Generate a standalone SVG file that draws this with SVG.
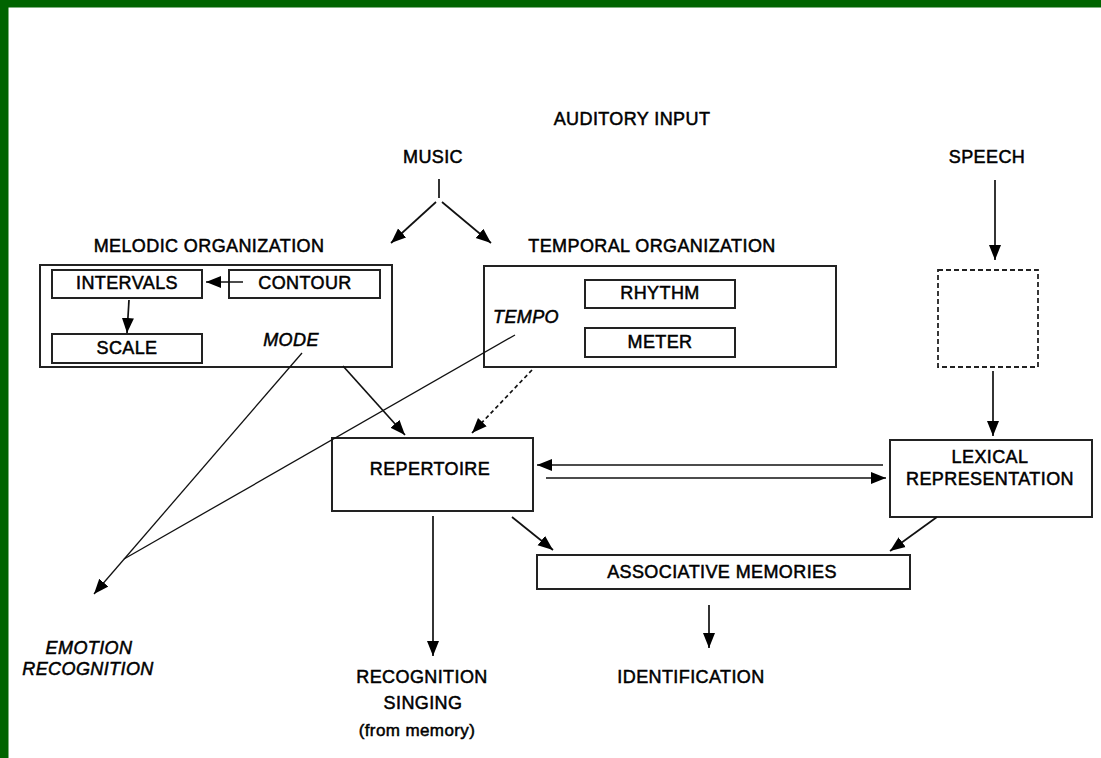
<svg xmlns="http://www.w3.org/2000/svg" width="1101" height="758" viewBox="0 0 1101 758">
<defs>
<marker id="ah" markerUnits="userSpaceOnUse" markerWidth="16" markerHeight="13" refX="15" refY="6.5" orient="auto">
<path d="M0,0.5 L15,6.5 L0,12.5 z" fill="#000"/>
</marker>
<style>
.t{font-family:"Liberation Sans",Arial,sans-serif;font-size:18px;fill:#000;text-anchor:middle;letter-spacing:0.4px;stroke:#000;stroke-width:0.5px}
.i{font-style:italic}
.box{fill:#fff;stroke:#222;stroke-width:2}
.dbox{fill:#fff;stroke:#222;stroke-width:1.8;stroke-dasharray:5,3}
.c{stroke:#111;stroke-width:1.7;fill:none}
.a{marker-end:url(#ah)}
.d{stroke-dasharray:4,3}
</style>
</defs>
<rect x="0" y="0" width="1101" height="758" fill="#fff"/>
<rect x="0" y="0" width="1101" height="7.5" fill="#006400"/>
<rect x="0" y="0" width="8.5" height="758" fill="#006400"/>

<g id="auditory-input"><text class="t" x="632" y="125">AUDITORY INPUT</text></g>
<g id="music"><text class="t" x="433" y="163">MUSIC</text></g>
<g id="speech"><text class="t" x="987" y="163">SPEECH</text></g>

<g id="melodic-organization">
<text class="t" x="209" y="252">MELODIC ORGANIZATION</text>
<rect class="box" x="40" y="265" width="352" height="102"/>
</g>
<g id="intervals"><rect class="box" x="52" y="270" width="150" height="28"/><text class="t" x="127" y="289">INTERVALS</text></g>
<g id="contour"><rect class="box" x="229" y="270" width="151" height="28"/><text class="t" x="305" y="289">CONTOUR</text></g>
<g id="scale"><rect class="box" x="52" y="334" width="150" height="29"/><text class="t" x="127" y="354">SCALE</text></g>
<g id="mode"><text class="t i" x="291" y="346">MODE</text></g>

<g id="temporal-organization">
<text class="t" x="652" y="252">TEMPORAL ORGANIZATION</text>
<rect class="box" x="484" y="266" width="352" height="101"/>
</g>
<g id="rhythm"><rect class="box" x="585" y="280" width="150" height="28"/><text class="t" x="660" y="299">RHYTHM</text></g>
<g id="meter"><rect class="box" x="585" y="328" width="150" height="29"/><text class="t" x="660" y="348">METER</text></g>
<g id="tempo"><text class="t i" x="526" y="323">TEMPO</text></g>

<g id="speech-processing"><rect class="dbox" x="938" y="270" width="100" height="97"/></g>

<g id="repertoire"><rect class="box" x="332" y="438" width="201" height="73"/><text class="t" x="430" y="475">REPERTOIRE</text></g>
<g id="lexical-representation"><rect class="box" x="890" y="440" width="202" height="77"/><text class="t" x="990" y="463">LEXICAL</text><text class="t" x="990" y="485">REPRESENTATION</text></g>
<g id="associative-memories"><rect class="box" x="537" y="555" width="373" height="34"/><text class="t" x="722" y="578">ASSOCIATIVE MEMORIES</text></g>

<g id="emotion-recognition"><text class="t i" x="89" y="654">EMOTION</text><text class="t i" x="88" y="675">RECOGNITION</text></g>
<g id="recognition-singing"><text class="t" x="422" y="683">RECOGNITION</text><text class="t" x="423" y="709">SINGING</text><text class="t" x="417" y="736" style="font-size:17px">(from memory)</text></g>
<g id="identification"><text class="t" x="691" y="683">IDENTIFICATION</text></g>

<g id="connectors">
<line class="c" x1="439" y1="179" x2="439" y2="198"/>
<line class="c a" x1="436" y1="202" x2="391" y2="243"/>
<line class="c a" x1="442" y1="202" x2="491" y2="243"/>
<line class="c a" x1="243" y1="282" x2="206" y2="282"/>
<line class="c a" x1="129" y1="300" x2="127" y2="333"/>
<line class="c a" x1="343" y1="366" x2="405" y2="435"/>
<line class="c a d" x1="532" y1="370" x2="472" y2="433"/>
<line class="c a" x1="302" y1="353" x2="94" y2="594" style="stroke-width:1.3"/>
<line class="c" x1="515" y1="335" x2="124" y2="559" style="stroke-width:1.3"/>
<line class="c a" x1="995" y1="180" x2="995" y2="260"/>
<line class="c a" x1="993" y1="371" x2="993" y2="436"/>
<line class="c a" x1="883" y1="465" x2="537" y2="465"/>
<line class="c a" x1="546" y1="478" x2="886" y2="478"/>
<line class="c a" x1="512" y1="517" x2="553" y2="550"/>
<line class="c a" x1="937" y1="517" x2="890" y2="551"/>
<line class="c a" x1="433" y1="516" x2="433" y2="656"/>
<line class="c a" x1="709" y1="605" x2="709" y2="648"/>
</g>
</svg>
